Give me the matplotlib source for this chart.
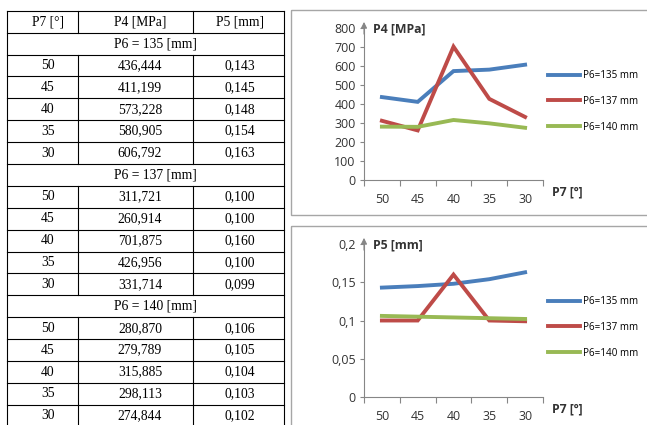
import numpy as np
import matplotlib.pyplot as plt
from matplotlib.patches import Rectangle

# ---- data ----
p7_labels = ["50", "45", "40", "35", "30"]
p6_values = [135, 137, 140]
p4_135 = [436.444, 411.199, 573.228, 580.905, 606.792]
p4_137 = [311.721, 260.914, 701.875, 426.956, 331.714]
p4_140 = [280.870, 279.789, 315.885, 298.113, 274.844]
p5_135 = [0.143, 0.145, 0.148, 0.154, 0.163]
p5_137 = [0.100, 0.100, 0.160, 0.100, 0.099]
p5_140 = [0.106, 0.105, 0.104, 0.103, 0.102]
p4_ticks = [0, 100, 200, 300, 400, 500, 600, 700, 800]
p5_ticks = [0, 0.05, 0.1, 0.15, 0.2]
p5_ticklabels = ["0", "0,05", "0,1", "0,15", "0,2"]

W, H = 647, 425
COLORS = ['#4A7EBB', '#BE4B48', '#98B954']
AXIS_GRAY = '#868686'
SANS = 'Open Sans'
SERIF = 'Liberation Serif'

fig = plt.figure(figsize=(W / 100, H / 100), dpi=100)

# overlay in pixel coordinates for the table and chart frames
ov = fig.add_axes([0, 0, 1, 1], zorder=0)
ov.set_xlim(0, W)
ov.set_ylim(H, 0)
ov.axis('off')

# chart frames
ov.add_patch(Rectangle((291, 10), 400, 205, fill=False, ec='#a6a6a6', lw=1))
ov.add_patch(Rectangle((291, 226), 400, 250, fill=False, ec='#a6a6a6', lw=1))

# ---- table ----
x_left, x_c1, x_c2, x_right = 7.3, 77.7, 192.7, 284.3
col_centers = [48, 140, 240]
top, row_h = 10.7, 21.9

def fmt(v):
    return f"{v:.3f}".replace('.', ',')

rows = [("head", ["P7 [°]", "P4 [MPa]", "P5 [mm]"])]
p4_groups = [p4_135, p4_137, p4_140]
p5_groups = [p5_135, p5_137, p5_140]
for p6, p4s, p5s in zip(p6_values, p4_groups, p5_groups):
    rows.append(("merged", [f"P6 = {p6} [mm]"]))
    for lab, a, b in zip(p7_labels, p4s, p5s):
        rows.append(("data", [lab, fmt(a), fmt(b)]))

for k, (kind, cells) in enumerate(rows):
    y0 = top + k * row_h
    yc = y0 + row_h / 2
    ov.plot([x_left, x_right], [y0, y0], color='black', lw=0.8)
    if kind == "merged":
        ov.text(155, yc, cells[0], ha='center', va='center', family=SERIF, fontsize=9.8)
    else:
        for xc, t in zip(col_centers, cells):
            ov.text(xc, yc, t, ha='center', va='center', family=SERIF, fontsize=9.8)
        ov.plot([x_c1, x_c1], [y0, y0 + row_h], color='black', lw=0.8)
        ov.plot([x_c2, x_c2], [y0, y0 + row_h], color='black', lw=0.8)
ov.plot([x_left, x_left], [top, H + 5], color='black', lw=0.8)
ov.plot([x_right, x_right], [top, H + 5], color='black', lw=0.8)


# ---- charts ----
def px_axes(x0, y0, x1, y1):
    return fig.add_axes([x0 / W, 1 - y1 / H, (x1 - x0) / W, (y1 - y0) / H], zorder=2)


def draw_chart(box, series, ymax, yticks, yticklabels, title, legend_y):
    ax = px_axes(*box)
    x = np.arange(len(p7_labels))
    for vals, c, p6 in zip(series, COLORS, p6_values):
        ax.plot(x, vals, color=c, lw=2.8, label=f"P6={p6} mm", solid_joinstyle='miter')
    ax.set_xlim(-0.5, len(p7_labels) - 0.5)
    ax.set_ylim(0, ymax)
    ax.patch.set_alpha(0)
    for s in ['top', 'right']:
        ax.spines[s].set_visible(False)
    for s in ['left', 'bottom']:
        ax.spines[s].set_color(AXIS_GRAY)
        ax.spines[s].set_linewidth(0.8)
    ax.set_yticks(yticks)
    ax.set_yticklabels(yticklabels, family=SANS, fontsize=8.9, color='#333333')
    ax.tick_params(axis='y', length=3, color=AXIS_GRAY, pad=3)
    ax.set_xticks(np.arange(len(p7_labels) + 1) - 0.5)
    ax.set_xticklabels([])
    ax.tick_params(axis='x', which='major', length=4, color=AXIS_GRAY, direction='out')
    ax.set_xticks(x, minor=True)
    ax.set_xticklabels(p7_labels, minor=True, family=SANS, fontsize=8.9, color='#333333')
    ax.tick_params(axis='x', which='minor', length=0, pad=9)
    ax.annotate('', xy=(0, 1.04), xytext=(0, 0.96), xycoords='axes fraction',
                arrowprops=dict(arrowstyle='-|>', color=AXIS_GRAY, lw=0.8,
                                mutation_scale=9, shrinkA=0, shrinkB=0))
    ax.text(0.05, 0.995, title, transform=ax.transAxes, ha='left', va='center',
            family=SANS, fontsize=8.8, fontweight='bold', color='#333333')
    ax.text(1.05, -0.08, "P7 [º]", transform=ax.transAxes, ha='left', va='center',
            family=SANS, fontsize=8.8, fontweight='bold', color='#333333')
    ax.legend(loc='upper left', bbox_to_anchor=(548 / W, 1 - legend_y / H),
              bbox_transform=fig.transFigure, frameon=False, handlelength=3.2,
              handletextpad=0.3, labelspacing=1.5, borderpad=0, borderaxespad=0,
              prop={'family': SANS, 'size': 7.1})
    return ax


draw_chart((364, 28, 543, 180), [p4_135, p4_137, p4_140], 800,
           p4_ticks, [str(t) for t in p4_ticks], "P4 [MPa]", 70)
draw_chart((364, 244, 543, 397), [p5_135, p5_137, p5_140], 0.2,
           p5_ticks, p5_ticklabels, "P5 [mm]", 296)

fig.savefig('out.png', dpi=100)
